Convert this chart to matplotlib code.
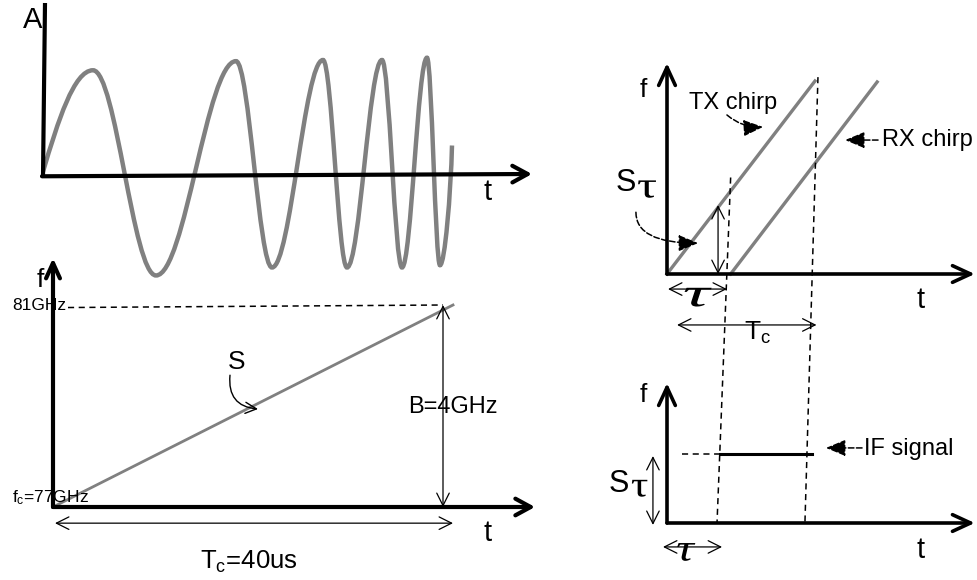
import matplotlib.pyplot as plt
import matplotlib.transforms as mtrans
from matplotlib.path import Path
from matplotlib.patches import PathPatch
from matplotlib.textpath import TextPath
from matplotlib.font_manager import FontProperties

plt.rcParams['font.family'] = ['Liberation Sans', 'DejaVu Sans']
plt.rcParams['mathtext.fontset'] = 'custom'
plt.rcParams['mathtext.rm'] = 'Liberation Sans'
plt.rcParams['mathtext.default'] = 'regular'

# top: chirp waveform, turning points (t, amplitude)
wave_t = [0.0, 0.50, 1.13, 1.93, 2.29, 2.80, 3.04, 3.39, 3.59, 3.84, 3.97, 4.09]
wave_a = [0.02, 0.91, -0.89, 0.99, -0.82, 1.0, -0.82, 1.0, -0.82, 1.02, -0.80, 0.25]

# bottom left: one chirp, frequency against time
chirp_t = [0, 40]        # us
chirp_f = [77, 81]       # GHz
f_marks = [81, 77]
f_mark_labels = ['81GHz', 'f$_c$=77GHz']

# right: TX / RX chirps and IF tone (t in units of Tc, f in units of B)
Tc = 1.0
tau = 0.43
tx_t = [0, Tc]
tx_f = [0, 1.0]
rx_t = [tau, tau + 0.99]
rx_f = [0, 0.995]
if_t = [0.36, 0.98]
if_f = [0.357, 0.357]

GRAY = '#808080'
DASH = (0, (4, 3))

fig = plt.figure(figsize=(9.78, 5.80), dpi=100)


def panel(ox, oy, sx, sy, x0=0.0, y0=0.0):
    # transparent full-figure axes: data (x0, y0) sits at pixel (ox, oy)
    ax = fig.add_axes([0, 0, 1, 1])
    ax.set_xlim(x0 - ox / sx, x0 + (978 - ox) / sx)
    ax.set_ylim(y0 - (580 - oy) / sy, y0 + oy / sy)
    ax.axis('off')
    return ax


def axis_arrow(ax, start, end, lw=3.0, hl=1.1, hw=0.6):
    ax.annotate('', xy=end, xytext=start,
                arrowprops=dict(arrowstyle=f'->,head_length={hl},head_width={hw}',
                                lw=lw, color='black', shrinkA=0, shrinkB=0,
                                mutation_scale=10))


def span(ax, a, b, lw=0.9):
    ax.annotate('', xy=b, xytext=a,
                arrowprops=dict(arrowstyle='<->,head_length=0.9,head_width=0.45',
                                lw=lw, color='black', shrinkA=0, shrinkB=0,
                                mutation_scale=10))


def pointer(ax, start, end, conn='arc3,rad=0'):
    ax.annotate('', xy=end, xytext=start,
                arrowprops=dict(arrowstyle='-|>,head_length=1.2,head_width=0.5',
                                lw=1.1, ls='--', color='black', fc='black',
                                shrinkA=0, shrinkB=0, mutation_scale=10,
                                connectionstyle=conn))


def tau_glyph(ax, x, y, size, stretch, style='normal'):
    # wide serif tau, centred on (x, y) in data units of ax
    tp = TextPath((0, 0), 'τ', size=size,
                  prop=FontProperties(family='Liberation Serif', style=style))
    ext = tp.get_extents()
    tr = (mtrans.Affine2D().translate(-(ext.x0 + ext.x1) / 2, -(ext.y0 + ext.y1) / 2)
          .scale(stretch, 1.0) + mtrans.ScaledTranslation(x, y, ax.transData))
    ax.add_patch(PathPatch(tp, transform=tr, fc='black', ec='none'))


# ---- top: the chirp in time ----
axA = panel(43, 174, 100, 114)
verts = [(wave_t[0], wave_a[0])]
codes = [Path.MOVETO]
for i in range(1, len(wave_t)):
    x0, y0 = wave_t[i - 1], wave_a[i - 1]
    x1, y1 = wave_t[i], wave_a[i]
    dx, dy = x1 - x0, y1 - y0
    if i == 1:
        c1, c2 = (x0 + 0.3 * dx, y0 + 0.5 * dy), (x0 + 0.62 * dx, y1)
    elif i == len(wave_t) - 1:
        c1, c2 = (x0 + 0.4 * dx, y0), (x1 - 0.1 * dx, y1 - 0.4 * dy)
    else:
        c1, c2 = (x0 + 0.364 * dx, y0), (x1 - 0.364 * dx, y1)
    verts += [c1, c2, (x1, y1)]
    codes += [Path.CURVE4] * 3
axA.add_patch(PathPatch(Path(verts, codes), fc='none', ec=GRAY, lw=3.2))
axA.plot([0, 0.02], [-0.02, 1.5], color='black', lw=3.0, solid_capstyle='butt')
axis_arrow(axA, (-0.01, -0.02), (4.89, 0.0), hl=1.1, hw=0.6)
axA.text(-0.10, 1.35, 'A', fontsize=21, ha='center', va='center')
axA.text(4.45, -0.16, 't', fontsize=21, ha='center', va='center')

# ---- bottom left: f against t ----
axB = panel(53, 507, 10, 50.5, x0=0, y0=77)
axB.plot(chirp_t, chirp_f, color=GRAY, lw=2.0)
axis_arrow(axB, (0, 77), (0, 81.93), hl=1.1, hw=0.5)
axis_arrow(axB, (0, 77), (48.2, 77), hl=1.1, hw=0.6)
axB.plot([1.5, chirp_t[1] - 1], [chirp_f[1] - 0.05, chirp_f[1]], color='black', lw=1.1, ls=DASH)
span(axB, (chirp_t[1] - 1, chirp_f[0]), (chirp_t[1] - 1, chirp_f[1]))
span(axB, (chirp_t[0] + 0.2, 76.68), (chirp_t[1], 76.68))
for f, lab in zip(f_marks, f_mark_labels):
    axB.text(-4.1, f + 0.18 * (f == 77), lab, fontsize=12.5, ha='left', va='center')
axB.text(39.95, 78.98, 'B=%dGHz' % (chirp_f[1] - chirp_f[0]), fontsize=17,
         ha='center', va='center')
axB.text(19.6, 75.91, 'T$_c$=%dus' % chirp_t[1], fontsize=18.5, ha='center', va='center')
axB.text(43.5, 76.49, 't', fontsize=21, ha='center', va='center')
axB.text(-1.3, 81.5, 'f', fontsize=19, ha='center', va='center')
axB.text(18.4, 79.87, 'S', fontsize=19, ha='center', va='center')
axB.annotate('', xy=(20.5, 78.94), xytext=(17.7, 79.61),
             arrowprops=dict(arrowstyle='->,head_length=0.8,head_width=0.4', lw=1.0,
                             color='black', shrinkA=0, shrinkB=0, mutation_scale=10,
                             connectionstyle='arc3,rad=0.5'))

# ---- right top: TX and RX chirps ----
axC = panel(667, 274, 148, 193)
axC.plot(tx_t, tx_f, color=GRAY, lw=2.4)
axC.plot(rx_t, rx_f, color=GRAY, lw=2.4)
axis_arrow(axC, (0, 0), (0, 1.093), lw=2.6, hl=1.3, hw=0.6)
axis_arrow(axC, (0, 0), (2.08, 0), lw=2.6, hl=1.3, hw=0.6)
axC.plot([tau, tau - 0.092], [0.5, -1.29], color='black', lw=1.1, ls=DASH)
axC.plot([Tc + 0.02, Tc - 0.068], [1.02, -1.29], color='black', lw=1.1, ls=DASH)
span(axC, (0.345, 0), (0.345, if_f[0]))
span(axC, (0.007, -0.078), (tau - 0.025, -0.078))
span(axC, (0.068, -0.264), (Tc + 0.01, -0.264))
axC.text(-0.28, 0.47, 'S', fontsize=22, ha='center', va='center')
tau_glyph(axC, -0.135, 0.44, 37, 1.35)
tau_glyph(axC, 0.21, -0.12, 40, 1.85, 'italic')
axC.text(0.615, -0.306, 'T$_c$', fontsize=19, ha='center', va='center')
axC.text(1.71, -0.135, 't', fontsize=21, ha='center', va='center')
axC.text(-0.16, 0.953, 'f', fontsize=19, ha='center', va='center')
axC.text(0.446, 0.886, 'TX chirp', fontsize=17, ha='center', va='center')
pointer(axC, (0.405, 0.824), (0.649, 0.762), 'arc3,rad=0.2')
pointer(axC, (1.426, 0.694), (1.203, 0.694))
axC.text(1.453, 0.694, 'RX chirp', fontsize=17, ha='left', va='center')
pointer(axC, (-0.21, 0.32), (0.21, 0.16), 'angle3,angleA=90,angleB=0')

# ---- right bottom: IF signal ----
axD = panel(667, 523, 148, 193)
axis_arrow(axD, (0, 0), (0, 0.725), lw=2.6, hl=1.3, hw=0.6)
axis_arrow(axD, (0, 0), (2.08, 0), lw=2.6, hl=1.3, hw=0.6)
axD.plot(if_t, if_f, color='black', lw=2.2)
axD.plot([0.10, if_t[0]], [if_f[0], if_f[0]], color='black', lw=1.1, ls=DASH)
span(axD, (-0.095, -0.01), (-0.095, if_f[0] - 0.01))
span(axD, (-0.027, -0.124), (0.372, -0.124))
axD.text(-0.325, 0.20, 'S', fontsize=22, ha='center', va='center')
tau_glyph(axD, -0.185, 0.18, 36, 1.2)
tau_glyph(axD, 0.13, -0.15, 38, 1.3, 'italic')
axD.text(1.71, -0.14, 't', fontsize=21, ha='center', va='center')
axD.text(-0.16, 0.663, 'f', fontsize=19, ha='center', va='center')
pointer(axD, (1.318, 0.389), (1.074, 0.389))
axD.text(1.33, 0.385, 'IF signal', fontsize=17, ha='left', va='center')

plt.savefig('out.png', dpi=100)
